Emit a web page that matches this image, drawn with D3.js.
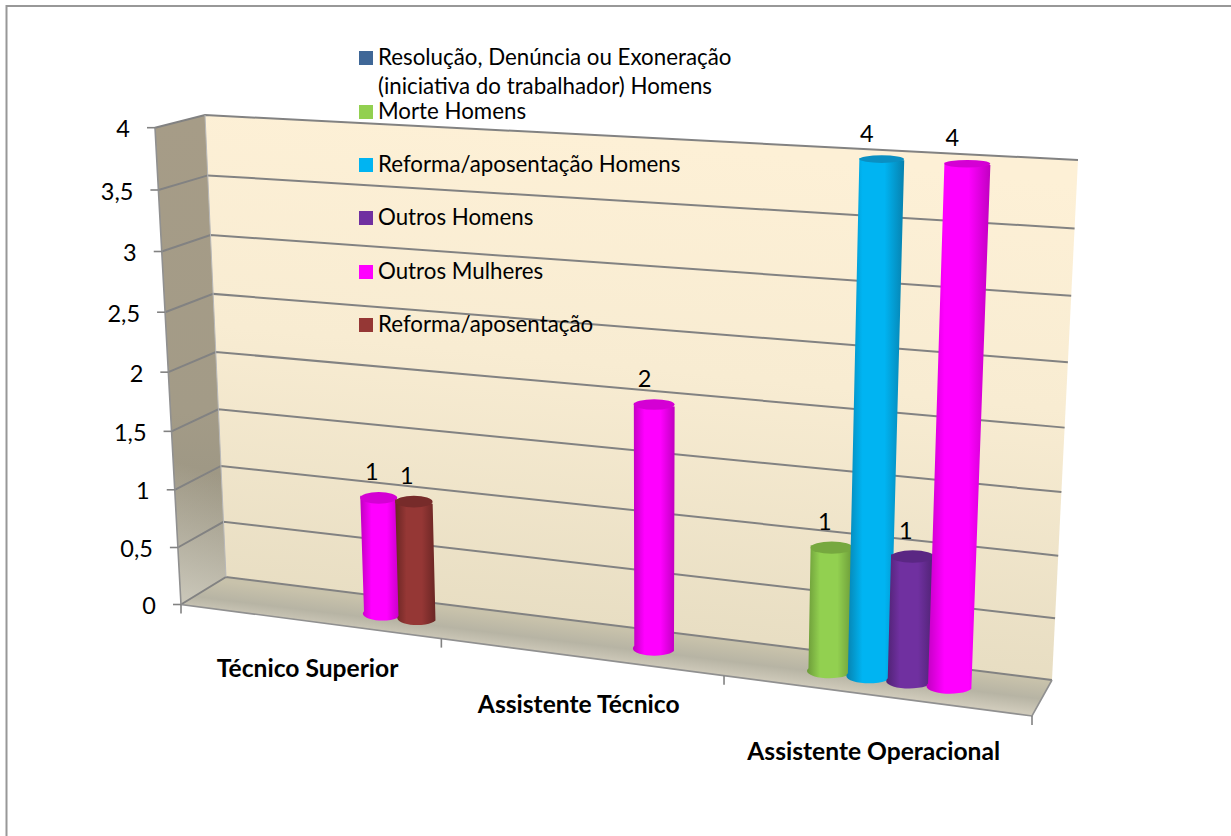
<!DOCTYPE html>
<html><head><meta charset="utf-8">
<script src="https://cdn.jsdelivr.net/npm/d3@7"></script>
<style>html,body{margin:0;padding:0;background:#fff}svg{display:block}text{font-family:Lato,"Open Sans",sans-serif;fill:#000}</style>
</head><body><div id="c"></div>
<script>
const categories = ["Técnico Superior","Assistente Técnico","Assistente Operacional"];
const seriesNames = ["Resolução, Denúncia ou Exoneração\n(iniciativa do trabalhador) Homens","Morte Homens","Reforma/aposentação Homens","Outros Homens","Outros Mulheres","Reforma/aposentação"];
const seriesColors = ["#3F6797","#92D050","#00B4F2","#7030A0","#FF00FF","#953735"];
const seriesTops = ["#33557d","#76a83f","#0a8fc2","#5a2783","#d400d4","#772b2a"];
const seriesEdges = ["#2c4a6e","#6b9a38","#0781ae","#4e2272","#c000c0","#6a2624"];
const values = [
  [null,null,null,null,1,1],
  [null,null,null,null,2,null],
  [null,1,4,1,4,null]
];
const yTicks = [0,0.5,1,1.5,2,2.5,3,3.5,4];
const W=1231,H=836;
const back={tl:[205,115],tr:[1078,160],br:[1052,680],bl:[226,577]};
const front={tl:[155,127.7],tr:[1053,178],br:[1032,716],bl:[181,604.5]};
function homography(q){
  const [x0,y0]=q.bl,[x1,y1]=q.br,[x2,y2]=q.tr,[x3,y3]=q.tl;
  const dx1=x1-x2,dx2=x3-x2,sx=x0-x1+x2-x3,dy1=y1-y2,dy2=y3-y2,sy=y0-y1+y2-y3;
  const den=dx1*dy2-dx2*dy1;
  const g=(sx*dy2-dx2*sy)/den,h=(dx1*sy-sx*dy1)/den;
  const a=x1-x0+g*x1,b=x3-x0+h*x3,c=x0,d=y1-y0+g*y1,e=y3-y0+h*y3,f=y0;
  return (u,v)=>{const w=g*u+h*v+1;return [(a*u+b*v+c)/w,(d*u+e*v+f)/w];};
}
const hB=homography(back),hF=homography(front);
const yScale=d3.scaleLinear().domain([0,4]).range([0,1]);
const xCat=d3.scaleBand().domain(d3.range(categories.length)).range([0,1]);
const xSer=d3.scaleBand().domain(d3.range(seriesNames.length)).range([0,xCat.bandwidth()]).paddingInner(0).paddingOuter(0.78);
const proj=(u,val,depth)=>{const p=hB(u,yScale(val)),q=hF(u,yScale(val));return [p[0]+(q[0]-p[0])*depth,p[1]+(q[1]-p[1])*depth];};

const svg=d3.select("#c").append("svg").attr("width",W).attr("height",H);
const defs=svg.append("defs");
function lin(id,x1,y1,x2,y2,stops){const g=defs.append("linearGradient").attr("id",id).attr("gradientUnits","userSpaceOnUse").attr("x1",x1).attr("y1",y1).attr("x2",x2).attr("y2",y2);stops.forEach(s=>g.append("stop").attr("offset",s[0]).attr("stop-color",s[1]).attr("stop-opacity",s[2]==null?1:s[2]));}
lin("gWall",640,140,590,640,[[0,"#fdf0d6"],[0.45,"#f8ecd2"],[1,"#e7ddc2"]]);
lin("gLeftBase",0,115,0,610,[[0,"#a69c87"],[0.6,"#a39b87"],[1,"#959180"]]);
lin("gLeftLight",165,610,205,470,[[0,"#d6d3c6",0.9],[1,"#d6d3c6",0]]);
lin("gFloor",640,632,636,665,[[0,"#c8c2ab"],[0.55,"#b7b4a4"],[1,"#cfcaba"]]);
seriesColors.forEach((c,i)=>{const g=defs.append("linearGradient").attr("id","cyl"+i).attr("x1",0).attr("x2",1).attr("y1",0).attr("y2",0);
  [[0,seriesEdges[i]],[0.28,c],[0.66,c],[1,seriesEdges[i]]].forEach(s=>g.append("stop").attr("offset",s[0]).attr("stop-color",s[1]));});

// chart frame: only the top and left edges show
svg.append("line").attr("x1",6).attr("x2",W).attr("y1",6).attr("y2",6).attr("stroke","#989898").attr("stroke-width",2);
svg.append("line").attr("x1",6.5).attr("x2",6.5).attr("y1",5).attr("y2",H).attr("stroke","#989898").attr("stroke-width",2);

const poly=pts=>"M"+pts.map(p=>p.join(",")).join("L")+"Z";
const g=svg.append("g");
g.append("path").attr("d",poly([back.tl,back.tr,back.br,back.bl])).attr("fill","url(#gWall)");
g.append("path").attr("d",poly([front.tl,back.tl,back.bl,front.bl])).attr("fill","url(#gLeftBase)");
g.append("path").attr("d",poly([front.tl,back.tl,back.bl,front.bl])).attr("fill","url(#gLeftLight)");
g.append("path").attr("d",poly([front.bl,back.bl,back.br,front.br])).attr("fill","url(#gFloor)");
const gridC="#828282";
g.selectAll(".grid").data(yTicks).join("path").attr("class","grid").attr("fill","none").attr("stroke",gridC).attr("stroke-width",2)
 .attr("d",v=>{const a=proj(0,v,1),b=proj(0,v,0),c=proj(1,v,0);return "M"+[a,b,c].map(p=>p.join(",")).join("L");});
g.append("path").attr("fill","none").attr("stroke","#909090").attr("stroke-width",1.6).attr("d","M"+[front.tl,front.bl,front.br,back.br].map(p=>p.join(",")).join("L"));
g.append("path").attr("fill","none").attr("stroke","#b8b8b8").attr("stroke-width",1).attr("d","M"+[back.tl,back.bl].map(p=>p.join(",")).join("L"));
g.selectAll(".yt").data(yTicks).join("line").attr("class","yt").attr("stroke",gridC).attr("stroke-width",1.6)
 .attr("x1",v=>proj(0,v,1)[0]-8).attr("x2",v=>proj(0,v,1)[0]).attr("y1",v=>proj(0,v,1)[1]).attr("y2",v=>proj(0,v,1)[1]);
const fmt=v=>String(v).replace(".",",");
svg.selectAll(".yl").data(yTicks).join("text").attr("class","yl").attr("text-anchor","end").attr("font-size",23.5)
 .attr("x",v=>proj(0,v,1)[0]-25).attr("y",v=>proj(0,v,1)[1]+9.5).text(fmt);
const catEdges=d3.range(categories.length+1).map(i=>i/categories.length);
g.selectAll(".xt").data(catEdges).join("line").attr("class","xt").attr("stroke",gridC).attr("stroke-width",1.6)
 .attr("x1",u=>proj(u,0,1)[0]).attr("y1",u=>proj(u,0,1)[1]).attr("x2",u=>proj(u,0,1)[0]).attr("y2",u=>proj(u,0,1)[1]+9);
const catLabelDy=[56,56,65];
svg.selectAll(".xl").data(categories).join("text").attr("class","xl").attr("text-anchor","middle").attr("font-size",24.6).attr("font-weight",700)
 .attr("x",(d,i)=>proj(xCat(i)+xCat.bandwidth()/2,0,1)[0]-1)
 .attr("y",(d,i)=>proj(xCat(i)+xCat.bandwidth()/2,0,1)[1]+catLabelDy[i])
 .text(d=>d);
const bars=[];
values.forEach((row,ci)=>row.forEach((v,si)=>{if(v!=null)bars.push({ci,si,v});}));
const depth=0.5;
const radU=xSer.bandwidth()*0.53;
const ryAt=d3.scaleLinear().domain([160,680]).range([3.8,7]);
const ellipse=(cx,cy,rx,ry)=>`M${cx-rx},${cy}A${rx},${ry} 0 1 1 ${cx+rx},${cy}A${rx},${ry} 0 1 1 ${cx-rx},${cy}Z`;
const bg=svg.append("g");
bars.forEach(b=>{
  const uc=xCat(b.ci)+xSer(b.si)+xSer.bandwidth()/2+0.002;
  b.bl=proj(uc-radU,0,depth);b.br=proj(uc+radU,0,depth);
  b.tl=proj(uc-radU,b.v,depth);b.tr=proj(uc+radU,b.v,depth);
  b.tc=proj(uc,b.v,depth);
  const rxB=(b.br[0]-b.bl[0])/2,rxT=(b.tr[0]-b.tl[0])/2;
  bg.append("path").attr("fill",`url(#cyl${b.si})`)
    .attr("d",`M${b.tl[0]},${b.tl[1]}L${b.bl[0]},${b.bl[1]}A${rxB},${ryAt(b.bl[1])} 0 0 0 ${b.br[0]},${b.br[1]}L${b.tr[0]},${b.tr[1]}Z`);
  bg.append("path").attr("fill",seriesTops[b.si]).attr("d",ellipse(b.tc[0],(b.tl[1]+b.tr[1])/2,rxT,ryAt(b.tc[1])));
});
const labelDx=d3.scaleLinear().domain([1,4]).range([-7,-15]);
svg.selectAll(".dl").data(bars).join("text").attr("class","dl").attr("text-anchor","middle").attr("font-size",23.5)
 .attr("x",b=>b.tc[0]+labelDx(b.v)).attr("y",b=>b.tc[1]-17.5).text(b=>b.v);
const legendRows=[58,112,165,218,272,325];
const lg=svg.append("g");
seriesNames.forEach((n,i)=>{
  lg.append("rect").attr("x",359).attr("y",legendRows[i]-7).attr("width",14).attr("height",14).attr("fill",seriesColors[i]);
  n.split("\n").forEach((t,j)=>lg.append("text").attr("x",378).attr("y",legendRows[i]+6.5+j*29.5).attr("font-size",22.3).text(t));
});
</script></body></html>
